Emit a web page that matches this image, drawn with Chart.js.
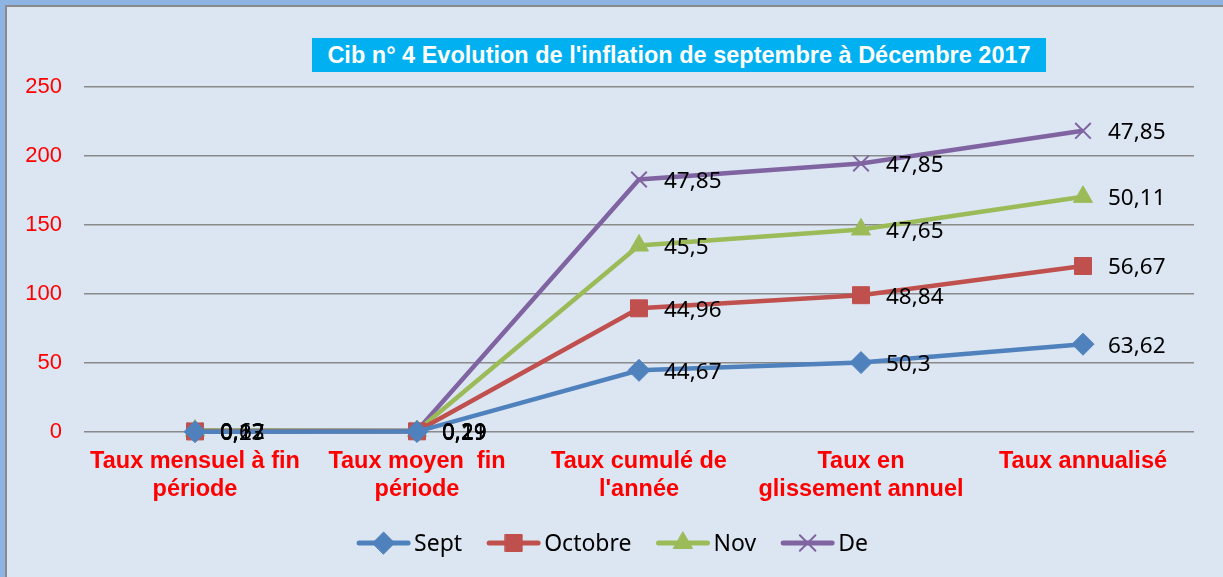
<!DOCTYPE html>
<html>
<head>
<meta charset="utf-8">
<script src="https://cdn.jsdelivr.net/npm/chart.js@4/dist/chart.umd.min.js"></script>
<style>
  html, body { margin: 0; padding: 0; }
  body { width: 1223px; height: 577px; background: #8EB4E3; overflow: hidden; position: relative; }
  #frame { position: absolute; left: 5px; top: 5px; width: 1230px; height: 590px;
           background: #DCE6F2; border-left: 2px solid #8A8A8A; border-top: 2px solid #8A8A8A; }
  #title { position: absolute; left: 312px; top: 38px; width: 734px; height: 34px;
           display: flex; align-items: center; justify-content: center;
           background: #00B0F0; color: #fff; font: bold 23.5px "Liberation Sans", Arial, sans-serif;
           white-space: nowrap; }
  #wrap { position: absolute; left: 0; top: 0; width: 1223px; height: 577px; }
</style>
</head>
<body>
<div id="frame"></div>
<div id="wrap"><canvas id="chart"></canvas></div>
<div id="title">Cib n° 4 Evolution de l'inflation de septembre à Décembre 2017</div>
<script>
// categories and series (stacked line, labels show each series' own value)
const categories = [
    ['Taux mensuel à fin', 'période'],
    ['Taux moyen  fin', 'période'],
    ['Taux cumulé de', "l'année"],
    ['Taux en', 'glissement annuel'],
    ['Taux annualisé']
];
const sept = [0.23, 0.29, 44.67, 50.3, 63.62];
const octobre = [0.17, 0.19, 44.96, 48.84, 56.67];
const nov = [0.62, 0.21, 45.5, 47.65, 50.11];
const de = [0.12, 0.29, 47.85, 47.85, 47.85];
const yTicks = [0, 50, 100, 150, 200, 250];

const fmt = v => String(v).replace('.', ',');

// value labels to the right of each point
const valueLabels = {
    id: 'valueLabels',
    afterDatasetsDraw(chart) {
        const ctx = chart.ctx;
        ctx.save();
        ctx.font = '22.5px "Noto Sans", sans-serif';
        ctx.fillStyle = '#000';
        ctx.textAlign = 'left';
        ctx.textBaseline = 'middle';
        chart.data.datasets.forEach((ds, i) => {
            chart.getDatasetMeta(i).data.forEach((pt, j) => {
                ctx.fillText(fmt(ds.data[j]), pt.x + 25, pt.y + 2);
            });
        });
        ctx.restore();
    }
};

// legend with line + marker, like the spreadsheet legend
const lineLegend = {
    id: 'lineLegend',
    afterDraw(chart) {
        const ctx = chart.ctx;
        ctx.save();
        ctx.font = '23px "Noto Sans", sans-serif';
        ctx.textBaseline = 'middle';
        const y = 543, seg = 55, gap = 3, space = 24;
        const items = chart.data.datasets;
        let total = 0;
        items.forEach((ds, i) => {
            total += seg + gap + ctx.measureText(ds.label).width + (i < items.length - 1 ? space : 0);
        });
        let x = 612 - total / 2;
        items.forEach(ds => {
            ctx.strokeStyle = ds.borderColor;
            ctx.lineWidth = 5;
            ctx.lineCap = 'round';
            ctx.beginPath();
            ctx.moveTo(x + 3, y);
            ctx.lineTo(x + seg - 3, y);
            ctx.stroke();
            ctx.fillStyle = ds.pointBackgroundColor;
            ctx.strokeStyle = ds.pointBorderColor;
            ctx.lineWidth = ds.pointBorderWidth;
            Chart.helpers.drawPoint(ctx, {
                pointStyle: ds.pointStyle, radius: ds.pointRadius, rotation: 0,
                borderWidth: ds.pointBorderWidth
            }, x + seg / 2, y);
            ctx.fillStyle = '#000';
            ctx.fillText(ds.label, x + seg + gap, y + 1);
            x += seg + gap + ctx.measureText(ds.label).width + space;
        });
        ctx.restore();
    }
};

const mk = (label, data, color, style, radius, bw) => ({
    label, data,
    borderColor: color,
    backgroundColor: color,
    borderWidth: 4.5,
    pointStyle: style,
    pointRadius: radius,
    pointHoverRadius: radius,
    pointBackgroundColor: color,
    pointBorderColor: color,
    pointBorderWidth: bw,
    tension: 0,
    fill: false,
    clip: false
});

new Chart(document.getElementById('chart'), {
    type: 'line',
    data: {
        labels: categories,
        datasets: [
            mk('Sept', sept, '#4F81BD', 'rectRot', 11, 1),
            mk('Octobre', octobre, '#C0504D', 'rect', 12, 1),
            mk('Nov', nov, '#9BBB59', 'triangle', 11, 1),
            mk('De', de, '#8064A2', 'crossRot', 11, 2)
        ]
    },
    options: {
        responsive: true, maintainAspectRatio: false, animation: false,
        layout: { padding: { left: 0, right: 29, top: 87, bottom: 0 } },
        plugins: {
            legend: { display: false },
            title: { display: false },
            tooltip: { enabled: false }
        },
        scales: {
            y: {
                stacked: true,
                min: 0, max: 250,
                afterBuildTicks: s => { s.ticks = yTicks.map(v => ({ value: v })); },
                afterFit: s => { s.width = 84; },
                border: { display: false },
                grid: { color: '#8A8A8A', lineWidth: 1.5, drawTicks: false },
                ticks: { color: '#FF0000', padding: 22, font: { family: '"Liberation Sans", Arial', size: 22 } }
            },
            x: {
                offset: true,
                afterFit: s => { s.height = 577 - 87 - 345; },
                border: { display: false },
                grid: { display: false, drawTicks: false },
                ticks: {
                    color: '#FF0000', padding: 15, maxRotation: 0, autoSkip: false,
                    font: { family: '"Liberation Sans", Arial', size: 23.5, weight: 'bold', lineHeight: 1.2 }
                }
            }
        }
    },
    plugins: [valueLabels, lineLegend]
});
</script>
</body>
</html>
